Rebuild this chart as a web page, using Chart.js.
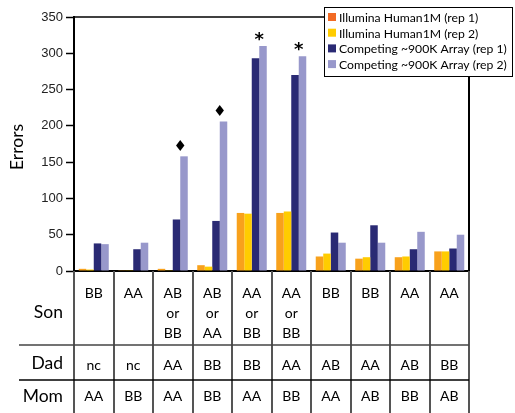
<!DOCTYPE html>
<html>
<head>
<meta charset="utf-8">
<script src="https://cdn.jsdelivr.net/npm/chart.js@4.4.0/dist/chart.umd.min.js"></script>
<style>
  html, body { margin: 0; padding: 0; background: #fff; }
  #wrap { width: 515px; height: 413px; }
</style>
</head>
<body>
<div id="wrap"><canvas id="wykres" width="515" height="413"></canvas></div>
<script>
// genotypes per column
var son = [['BB'], ['AA'], ['AB', 'or', 'BB'], ['AB', 'or', 'AA'], ['AA', 'or', 'BB'], ['AA', 'or', 'BB'], ['BB'], ['BB'], ['AA'], ['AA']];
var dad = ['nc', 'nc', 'AA', 'BB', 'BB', 'AA', 'AB', 'AA', 'AB', 'BB'];
var mom = ['AA', 'BB', 'AA', 'BB', 'AA', 'BB', 'AA', 'AB', 'BB', 'AB'];

// errors
var illRep1 = [3, 1, 3, 8, 80, 80, 20, 17, 19, 27];
var illRep2 = [2, 1, 1, 6, 79, 82, 24, 19, 20, 27];
var compRep1 = [38, 30, 71, 69, 293, 270, 53, 63, 30, 31];
var compRep2 = [37, 39, 158, 206, 310, 296, 39, 39, 54, 50];

var seriesNames = ['Illumina Human1M (rep 1)', 'Illumina Human1M (rep 2)', 'Competing ~900K Array (rep 1)', 'Competing ~900K Array (rep 2)'];

// markers above columns
var markCol = [2, 3, 4, 5];
var markSym = ['\u2666', '\u2666', '*', '*'];

var barColors = ['#f8a11c', '#ffcc00', '#2a2a74', '#9898cb'];
var legendColors = ['#f26a24', '#ffcc00', '#2a2a74', '#9898cb'];

var labels = son.map(function (s) { return s.join(' '); });

var extras = {
  id: 'extras',
  afterDraw: function (chart) {
    var ctx = chart.ctx;
    var a = chart.chartArea;
    var xs = chart.scales.x;
    ctx.save();

    // top + right frame
    ctx.strokeStyle = '#000';
    ctx.lineWidth = 1.5;
    ctx.beginPath();
    ctx.moveTo(a.left, a.top);
    ctx.lineTo(a.right, a.top);
    ctx.stroke();
    ctx.lineWidth = 2;
    ctx.beginPath();
    ctx.moveTo(a.right, a.top);
    ctx.lineTo(a.right, a.bottom);
    ctx.stroke();

    // markers
    var m2 = chart.getDatasetMeta(2), m3 = chart.getDatasetMeta(3);
    ctx.fillStyle = '#000';
    ctx.textAlign = 'center';
    ctx.textBaseline = 'middle';
    for (var k = 0; k < markCol.length; k++) {
      var i = markCol[k];
      var bx = (m2.data[i].x + m3.data[i].x) / 2;
      var by = m3.data[i].y - 9;
      if (markSym[k] == '*') {
        ctx.font = 'bold 18px "DejaVu Sans"';
        ctx.fillText('*', bx, by + 3);
      } else {
        ctx.font = '15px "DejaVu Sans"';
        ctx.fillText(markSym[k], bx, by);
      }
    }

    // Errors title
    ctx.save();
    ctx.translate(17, 147);
    ctx.rotate(-Math.PI / 2);
    ctx.font = '17.5px Lato';
    ctx.fillStyle = '#000';
    ctx.fillText('Errors', 0, 0);
    ctx.restore();

    // table
    var step = (a.right - a.left) / labels.length;
    var tTop = a.bottom, tBot = 413;
    var row1 = 345, row2 = 380;
    ctx.strokeStyle = '#555';
    ctx.lineWidth = 2;
    for (var j = 0; j <= labels.length; j++) {
      var vx = Math.round(a.left + j * step);
      ctx.beginPath();
      ctx.moveTo(vx, tTop);
      ctx.lineTo(vx, tBot);
      ctx.stroke();
    }
    ctx.lineWidth = 1.5;
    ctx.strokeStyle = '#444';
    ctx.beginPath();
    ctx.moveTo(19, row1); ctx.lineTo(a.right, row1);
    ctx.stroke();
    ctx.strokeStyle = '#000';
    ctx.beginPath();
    ctx.moveTo(19, row2); ctx.lineTo(a.right, row2);
    ctx.stroke();

    ctx.fillStyle = '#000';
    ctx.textBaseline = 'alphabetic';
    ctx.textAlign = 'right';
    ctx.font = '17.5px Lato';
    ctx.fillText('Son', 63, 318);
    ctx.fillText('Dad', 63, 369);
    ctx.fillText('Mom', 63, 402);

    ctx.textAlign = 'center';
    ctx.font = '14px Lato';
    for (var c = 0; c < labels.length; c++) {
      var cx = xs.getPixelForValue(c);
      for (var l = 0; l < son[c].length; l++) {
        ctx.fillText(son[c][l], cx, 298 + l * 20);
      }
      ctx.fillText(dad[c], cx, 370);
      ctx.fillText(mom[c], cx, 401);
    }

    // legend box
    var lx = 324, ly = 7, lw = 188, lh = 69;
    ctx.fillStyle = '#fff';
    ctx.fillRect(lx, ly, lw, lh);
    ctx.strokeStyle = '#000';
    ctx.lineWidth = 1;
    ctx.strokeRect(lx + 0.5, ly + 0.5, lw, lh);
    ctx.textAlign = 'left';
    ctx.textBaseline = 'middle';
    ctx.font = '12.2px Lato';
    for (var s = 0; s < seriesNames.length; s++) {
      var ey = 17 + s * 15.7;
      ctx.fillStyle = legendColors[s];
      ctx.fillRect(328, ey - 4, 8, 8);
      ctx.fillStyle = '#000';
      ctx.fillText(seriesNames[s], 339, ey + 1);
    }
    ctx.restore();
  }
};

var ctx = document.getElementById('wykres');
var dane = [illRep1, illRep2, compRep1, compRep2];
window.wykres = new Chart(ctx, {
  type: 'bar',
  data: {
    labels: labels,
    datasets: dane.map(function (d, i) {
      return {
        label: seriesNames[i],
        data: d,
        backgroundColor: barColors[i],
        borderWidth: 0,
        barPercentage: 1.0,
        categoryPercentage: 0.76
      };
    })
  },
  options: {
    responsive: false,
    animation: false,
    layout: { padding: { left: 0, right: 46, top: 17, bottom: 138 } },
    plugins: { legend: { display: false }, tooltip: { enabled: false } },
    scales: {
      x: {
        ticks: { display: false },
        grid: { display: false },
        border: { color: '#000', width: 2 },
        afterFit: function (s) { s.height = 4; }
      },
      y: {
        min: 0,
        max: 350,
        ticks: { stepSize: 50, color: '#222', font: { family: 'Liberation Sans', size: 13 }, padding: 3 },
        grid: { drawOnChartArea: false, tickLength: 8, color: '#000', tickWidth: 1.5 },
        border: { color: '#000', width: 2 },
        afterFit: function (s) { s.width = 74; }
      }
    }
  },
  plugins: [extras]
});
</script>
</body>
</html>
